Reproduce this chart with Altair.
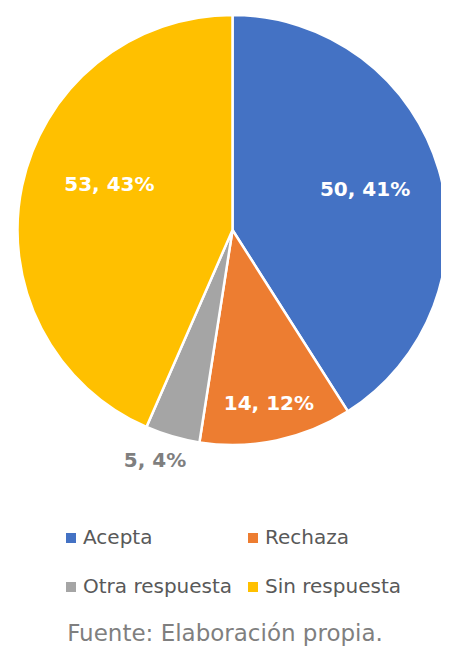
import altair as alt
import pandas as pd

categorias = ["Acepta", "Rechaza", "Otra respuesta", "Sin respuesta"]
valores = [50, 14, 5, 53]
porcentajes = [41, 12, 4, 43]
colores = ["#4472C4", "#ED7D31", "#A5A5A5", "#FFC000"]
fuente = ["Fuente: Elaboración propia."]

df = pd.DataFrame({
    "cat": categorias,
    "n": valores,
    "pct": porcentajes,
    "orden": list(range(len(categorias))),
})
df["label"] = df["n"].astype(str) + ", " + df["pct"].astype(str) + "%"
total = int(sum(valores))

theta_scale = alt.Scale(domain=[0, total])
CX, CY = 224.5, 222

arcs = alt.Chart(df).mark_arc(outerRadius=215, stroke="white", strokeWidth=2.5).encode(
    theta=alt.Theta("n:Q", stack=True, scale=theta_scale),
    order=alt.Order("orden:Q"),
    x=alt.value(CX),
    y=alt.value(CY),
    color=alt.Color(
        "cat:N",
        scale=alt.Scale(domain=categorias, range=colores),
        sort=categorias,
        legend=alt.Legend(
            title=None,
            orient="none",
            legendX=53,
            legendY=520,
            direction="horizontal",
            columns=2,
            symbolType="square",
            symbolSize=100,
            symbolStrokeWidth=0,
            labelFont="DejaVu Sans",
            labelFontSize=20,
            labelColor="#595959",
            labelOffset=2,
            labelLimit=300,
            columnPadding=10,
            rowPadding=29,
        ),
    ),
)

base_t = alt.Chart(df).transform_window(
    cum="sum(n)", sort=[alt.SortField("orden")], frame=[None, 0]
).transform_calculate(mid="datum.cum - datum.n / 2")


def capa(cat, radio, color, dx=0, dy=0):
    return base_t.transform_filter(
        alt.FieldEqualPredicate(field="cat", equal=cat)
    ).mark_text(
        radius=radio, font="DejaVu Sans", fontWeight="bold", fontSize=20,
        color=color, dx=dx, dy=dy,
    ).encode(
        theta=alt.Theta("mid:Q", stack=None, scale=theta_scale),
        x=alt.value(CX),
        y=alt.value(CY),
        text="label:N",
    )


t1 = capa("Acepta", 136, "white", dx=2, dy=-2)
t2 = capa("Rechaza", 178, "white")
t3 = capa("Otra respuesta", 245, "#7f7f7f", dx=-9, dy=-4)
t4 = capa("Sin respuesta", 136, "white", dx=10, dy=-17)

nota = alt.Chart(pd.DataFrame({"t": fuente})).mark_text(
    font="DejaVu Sans", fontSize=23, color="#7f7f7f", baseline="alphabetic", align="center"
).encode(text="t:N", x=alt.value(217), y=alt.value(633))

chart = alt.layer(arcs, t1, t2, t3, t4, nota).properties(
    width=433,
    height=639,
    padding=0,
    autosize=alt.AutoSizeParams(type="none"),
).configure_view(strokeWidth=0)

chart.save("out.html", embed_options={"renderer": "svg", "actions": False})
